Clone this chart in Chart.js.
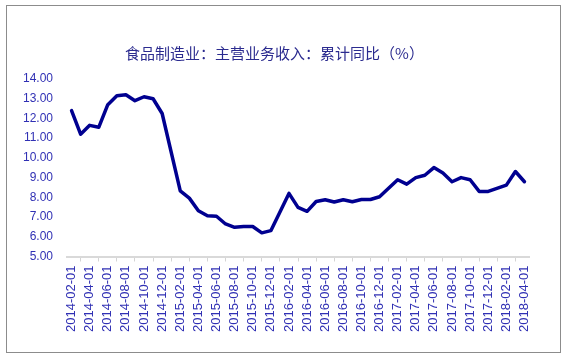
<!DOCTYPE html>
<html>
<head>
<meta charset="utf-8">
<script src="https://cdn.jsdelivr.net/npm/chart.js@4/dist/chart.umd.min.js"></script>
<style>
html,body{margin:0;padding:0;background:#fff;}
#wrap{width:570px;height:356px;position:relative;}
</style>
</head>
<body>
<div id="wrap"><canvas id="c" width="570" height="356"></canvas></div>
<script>
const chartTitle = "食品制造业：主营业务收入：累计同比（%）";

const months = [
  "2014-02-01","2014-03-01","2014-04-01","2014-05-01","2014-06-01","2014-07-01","2014-08-01","2014-09-01","2014-10-01","2014-11-01","2014-12-01",
  "2015-01-01","2015-02-01","2015-03-01","2015-04-01","2015-05-01","2015-06-01","2015-07-01","2015-08-01","2015-09-01","2015-10-01","2015-11-01","2015-12-01",
  "2016-01-01","2016-02-01","2016-03-01","2016-04-01","2016-05-01","2016-06-01","2016-07-01","2016-08-01","2016-09-01","2016-10-01","2016-11-01","2016-12-01",
  "2017-01-01","2017-02-01","2017-03-01","2017-04-01","2017-05-01","2017-06-01","2017-07-01","2017-08-01","2017-09-01","2017-10-01","2017-11-01","2017-12-01",
  "2018-01-01","2018-02-01","2018-03-01","2018-04-01"
];

const growth = [
  12.4, 11.2, 11.65, 11.55, 12.7, 13.15, 13.2, 12.9, 13.1, 13.0, 12.25,
  null, 8.33, 7.96, 7.32, 7.07, 7.04, 6.65, 6.48, 6.52, 6.52, 6.2, 6.31,
  null, 8.2, 7.49, 7.29, 7.79, 7.88, 7.76, 7.88, 7.78, 7.89, 7.89, 8.03,
  null, 8.89, 8.67, 9.0, 9.12, 9.51, 9.23, 8.79, 9.0, 8.89, 8.3, 8.3,
  null, 8.62, 9.31, 8.79
];

const yMin = 5, yMax = 14, yStep = 1;

const framePlugin = {
  id: 'frame',
  afterLayout(chart) {
    if (chart.titleBlock) chart.titleBlock.left += 11;
  },
  afterDraw(chart) {
    const ctx = chart.ctx;
    ctx.save();
    ctx.strokeStyle = '#8c8c8c';
    ctx.lineWidth = 1;
    ctx.strokeRect(6.5, 5.5, 554, 347);
    ctx.restore();
  }
};

new Chart(document.getElementById('c'), {
  type: 'line',
  data: {
    labels: months,
    datasets: [{
      label: chartTitle,
      data: growth,
      borderColor: '#000090',
      backgroundColor: '#000090',
      borderWidth: 3.5,
      pointRadius: 0,
      tension: 0,
      spanGaps: true,
      borderJoinStyle: 'round',
      borderCapStyle: 'round'
    }]
  },
  options: {
    responsive: false,
    animation: false,
    devicePixelRatio: 1,
    layout: { padding: { left: 9, right: 41, top: 0, bottom: 20 } },
    plugins: {
      legend: { display: false },
      tooltip: { enabled: false },
      title: {
        display: true,
        text: chartTitle,
        color: '#2b2b8f',
        font: { family: '"Noto Sans CJK SC", sans-serif', size: 15, weight: 'normal', lineHeight: 1.2 },
        padding: { top: 44, bottom: 17 }
      }
    },
    scales: {
      x: {
        type: 'category',
        offset: true,
        afterFit: s => { s.paddingLeft = 0; s.paddingRight = 0; },
        grid: {
          offset: true,
          drawOnChartArea: false,
          drawTicks: true,
          tickLength: 5,
          color: '#d4d4d4',
          lineWidth: 1
        },
        border: { display: true, color: '#d9d9d9', width: 2 },
        ticks: {
          autoSkip: false,
          maxRotation: 90,
          minRotation: 90,
          padding: 4,
          color: '#3030b4',
          font: { family: '"Liberation Sans", Arial, sans-serif', size: 13 },
          callback: function(v, i) { return i % 2 === 0 ? this.getLabelForValue(v) : null; }
        }
      },
      y: {
        min: yMin,
        max: yMax,
        grid: { display: false, drawTicks: false },
        border: { display: false },
        ticks: {
          stepSize: yStep,
          padding: 14,
          color: '#3030b4',
          font: { family: '"Liberation Sans", Arial, sans-serif', size: 12 },
          callback: v => Number(v).toFixed(2)
        }
      }
    }
  },
  plugins: [framePlugin]
});
</script>
</body>
</html>
